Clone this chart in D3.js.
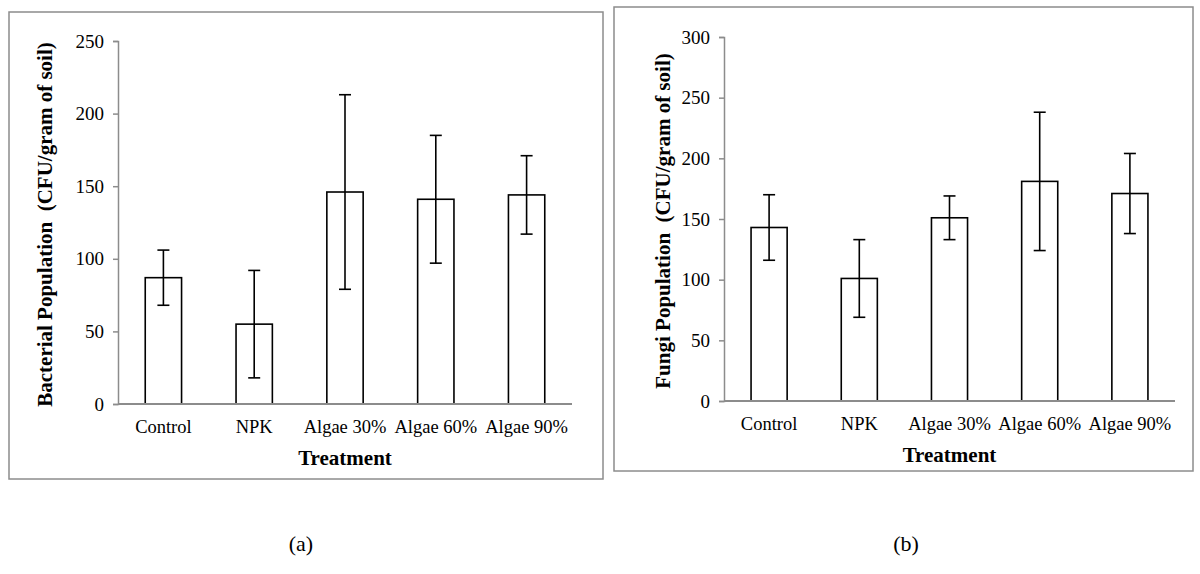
<!doctype html>
<html lang="en">
<head>
  <meta charset="utf-8">
  <script src="https://cdn.jsdelivr.net/npm/d3@7"></script>
  <style>
    body { margin: 0; background: #fff; }
  </style>
</head>
<body>
<svg width="1200" height="574"></svg>
<script>

var serif = "'Liberation Serif', 'Times New Roman', Times, serif";

var treatments = ["Control", "NPK", "Algae 30%", "Algae 60%", "Algae 90%"];

// panel (a) bacteria
var bacteriaMean = [87, 55, 146, 141, 144];
var bacteriaErr = [19, 37, 67, 44, 27];
var bacteriaTicks = [0, 50, 100, 150, 200, 250];

// panel (b) fungi
var fungiMean = [143, 101, 151, 181, 171];
var fungiErr = [27, 32, 18, 57, 33];
var fungiTicks = [0, 50, 100, 150, 200, 250, 300];

var svg = d3.select("svg");

function drawPanel(opt) {
  var g = svg.append("g");

  // outer frame
  g.append("rect")
      .attr("x", opt.frame[0]).attr("y", opt.frame[1])
      .attr("width", opt.frame[2] - opt.frame[0])
      .attr("height", opt.frame[3] - opt.frame[1])
      .attr("fill", "none")
      .attr("stroke", "#8c8c8c")
      .attr("stroke-width", 1.5);

  var x = d3.scaleBand()
      .domain(treatments)
      .range([opt.left, opt.right])
      .paddingInner(0.6)
      .paddingOuter(0.3);

  var y = d3.scaleLinear()
      .domain([0, opt.max])
      .range([opt.bottom, opt.top]);

  // y axis
  var yAxis = g.append("g")
      .attr("transform", "translate(" + opt.left + ",0)")
      .call(d3.axisLeft(y).tickValues(opt.ticks).tickSize(5).tickPadding(9));
  yAxis.attr("font-family", null).attr("font-size", null);
  yAxis.selectAll("path, line").attr("stroke", "#8c8c8c").attr("stroke-width", 1.5);
  yAxis.selectAll("text").style("font-family", serif).style("font-size", "19px");

  // bars
  g.selectAll(".bar")
      .data(opt.mean)
      .enter().append("rect")
      .attr("x", function(d, i) { return x(treatments[i]); })
      .attr("y", function(d) { return y(d); })
      .attr("width", x.bandwidth())
      .attr("height", function(d) { return y(0) - y(d); })
      .attr("fill", "#fff")
      .attr("stroke", "#000")
      .attr("stroke-width", 1.6);

  // error bars
  var cap = 6;
  opt.mean.forEach(function(d, i) {
    var cx = x(treatments[i]) + x.bandwidth() / 2;
    var hi = y(d + opt.err[i]), lo = y(d - opt.err[i]);
    g.append("line").attr("x1", cx).attr("x2", cx).attr("y1", hi).attr("y2", lo)
        .attr("stroke", "#000").attr("stroke-width", 1.6);
    [hi, lo].forEach(function(yy) {
      g.append("line").attr("x1", cx - cap).attr("x2", cx + cap).attr("y1", yy).attr("y2", yy)
          .attr("stroke", "#000").attr("stroke-width", 1.6);
    });
  });

  // x axis
  var xAxis = g.append("g")
      .attr("transform", "translate(0," + opt.bottom + ")")
      .call(d3.axisBottom(x).tickSize(0).tickPadding(16));
  xAxis.attr("font-family", null).attr("font-size", null);
  xAxis.select("path").attr("stroke", "#8c8c8c").attr("stroke-width", 2)
      .attr("d", "M" + opt.left + ",0H" + opt.right);
  xAxis.selectAll("text").style("font-family", serif).style("font-size", "18.5px");

  g.append("text")
      .attr("x", (opt.left + opt.right) / 2)
      .attr("y", opt.bottom + 61)
      .attr("text-anchor", "middle")
      .style("font-family", serif)
      .style("font-size", "21px")
      .style("font-weight", "bold")
      .text("Treatment");

  g.append("text")
      .attr("transform", "translate(" + opt.titleX + "," + ((opt.top + opt.bottom) / 2 + 2) + ") rotate(-90)")
      .attr("text-anchor", "middle")
      .attr("dy", "0.35em")
      .style("font-family", serif)
      .style("font-size", "21px")
      .style("font-weight", "bold")
      .style("white-space", "pre")
      .text(opt.title);

  svg.append("text")
      .attr("x", opt.caption[0]).attr("y", opt.caption[1])
      .attr("text-anchor", "middle")
      .style("font-family", serif)
      .style("font-size", "22px")
      .text(opt.label);
}

drawPanel({
  frame: [9, 12, 603, 479],
  left: 118, right: 572, top: 41, bottom: 404,
  max: 250, ticks: bacteriaTicks,
  mean: bacteriaMean, err: bacteriaErr,
  title: "Bacterial Population  (CFU/gram of soil)", titleX: 45,
  label: "(a)", caption: [301, 551]
});

drawPanel({
  frame: [614, 7, 1193, 471],
  left: 724, right: 1175, top: 37, bottom: 401,
  max: 300, ticks: fungiTicks,
  mean: fungiMean, err: fungiErr,
  title: "Fungi Population  (CFU/gram of soil)", titleX: 663,
  label: "(b)", caption: [906, 551]
});

</script>
</body>
</html>
